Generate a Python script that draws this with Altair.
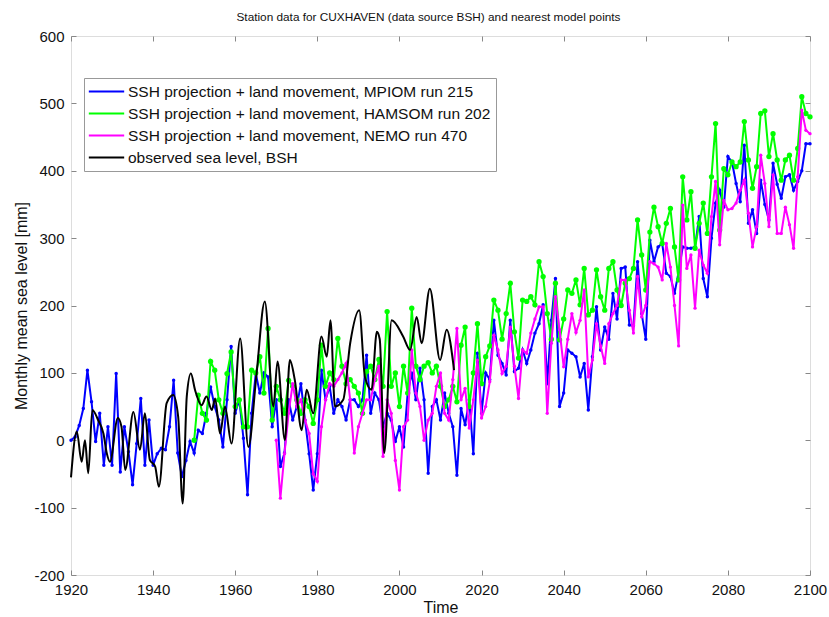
import altair as alt
import pandas as pd

# ---------------- data ----------------
mpiom_years = list(range(1920, 2101))
mpiom = [
    0, 5, 22, 47, 104, 57, -2, 40, -37, 20,
    -37, 99, -47, 20, -17, -66, -5, 62, -37, 30,
    -37, -20, -12, -14, 20, 89, -19, -54, -30, -2,
    -19, 15, 10, 40, 79, 50, 30, -10, 60, 139,
    40, 60, 3, -81, 40, 99, 70, 100, 94, 20,
    60, -39, -19, 60, 30, 50, 84, 30, -20, -74,
    -20, 104, 60, 80, 40, 60, 50, 30, 60, 60,
    50, 60, 126, 40, 70, 60, 20, 40, 30, -2,
    20, -10, 70, 100, 60, 107, 60, -49, 50, 60,
    30, 70, 40, 20, -52, 47, 23, 60, -20, 129,
    40, 100, 90, 178, 126, 114, 97, 178, 102, 107,
    134, 114, 134, 159, 173, 201, 84, 178, 240, 50,
    70, 134, 129, 124, 94, 114, 45, 124, 198, 134,
    168, 150, 218, 180, 255, 257, 171, 170, 265, 188,
    150, 297, 265, 287, 292, 248, 243, 218, 250, 287,
    285, 285, 287, 332, 240, 213, 300, 352, 371, 346,
    421, 413, 381, 354, 438, 322, 342, 307, 386, 350,
    327, 411, 380, 359, 391, 394, 371, 384, 400, 440,
    440,
]

hamsom_years = list(range(1950, 2101))
hamsom = [
    0, 67, 40, 30, 117, 104, 60, 40, 99, 131,
    50, 60, 20, 20, 104, 100, 124, 70, 166, 30,
    80, 60, 40, 89, 80, 60, 40, 60, 50, 25,
    60, 141, 80, 100, 90, 151, 110, 84, 90, 80,
    70, 40, 102, 110, 90, 120, 80, 191, 80, 100,
    50, 110, 70, 196, 110, 90, 110, 115, 100, 110,
    80, 50, 60, 80, 57, 141, 168, 50, 100, 173,
    84, 124, 140, 208, 193, 150, 188, 233, 161, 122,
    208, 206, 213, 201, 265, 243, 188, 150, 233, 149,
    180, 223, 218, 238, 201, 255, 186, 193, 253, 213,
    193, 255, 265, 223, 200, 233, 240, 255, 327, 275,
    223, 309, 346, 317, 292, 322, 344, 287, 238, 391,
    327, 369, 285, 322, 352, 307, 391, 470, 312, 403,
    394, 413, 406, 413, 473, 416, 374, 406, 485, 489,
    421, 455, 416, 386, 416, 423, 386, 433, 510, 485,
    480,
]

nemo_years = list(range(1970, 2101))
nemo = [
    0, -86, -20, 40, 84, 50, 60, 30, 10, -50,
    -61, 20, 60, 84, 80, 90, 100, 114, 60, -19,
    20, 40, 60, 60, 90, 110, -24, 60, 40, -30,
    -74, 20, 30, 134, 70, 50, 0, 30, 40, 80,
    100, 40, 30, 90, 166, 60, 77, 18, 60, 119,
    33, 50, 87, 156, 134, 99, 110, 168, 110, 62,
    134, 129, 159, 180, 198, 198, 40, 144, 213, 164,
    109, 150, 188, 160, 178, 223, 94, 119, 173, 140,
    114, 173, 188, 200, 238, 238, 193, 159, 243, 183,
    200, 265, 262, 257, 238, 292, 257, 200, 140, 349,
    255, 275, 196, 282, 260, 248, 332, 384, 290, 356,
    342, 344, 352, 371, 386, 337, 287, 317, 423, 381,
    317, 394, 307, 307, 346, 320, 285, 391, 490, 460,
    455,
]

obs_years = [
    1920.0, 1921.4, 1922.6, 1923.4, 1924.2, 1925.2, 1926.6, 1927.9, 1928.7, 1929.5,
    1931.4, 1932.3, 1933.2, 1935.2, 1936.8, 1938.0, 1939.2, 1940.5, 1941.4, 1943.3,
    1944.9, 1946.1, 1947.2, 1948.2, 1949.2, 1950.2, 1951.8, 1953.0, 1954.3, 1955.1,
    1956.3, 1957.5, 1959.1, 1961.2, 1963.2, 1965.2, 1967.2, 1969.3, 1970.3, 1972.1,
    1973.3, 1974.5, 1976.2, 1977.4, 1979.0, 1981.0, 1982.3, 1983.2, 1984.3, 1986.3,
    1988.0, 1990.2, 1991.6, 1993.2, 1994.5, 1995.2, 1996.3, 1998.1, 2000.9, 2002.6,
    2004.2, 2005.4, 2007.4, 2009.9, 2011.5, 2013.3,
]
obs = [
    -55, 13, -32, 0, -49, 45, 30, 10, -19, -32,
    33, 20, -44, 42, -14, 40, -29, -39, -69, 55,
    67, 35, -94, 65, 99, 75, 52, 65, 45, 62,
    10, 50, -5, 151, -10, 99, 206, 50, 117, 0,
    119, 90, 15, 75, 40, 154, 124, 178, 50, 60,
    144, 193, 94, 75, 161, 150, -19, 178, 154, 134,
    183, 144, 225, 119, 164, 104,
]

series_names = [
    "SSH projection + land movement, MPIOM run 215",
    "SSH projection + land movement, HAMSOM run 202",
    "SSH projection + land movement, NEMO run 470",
    "observed sea level, BSH",
]
series_colors = ["#0000FF", "#00FF00", "#FF00FF", "#000000"]
x_ticks = list(range(1920, 2101, 20))
y_ticks = list(range(-200, 601, 100))

frames = []
for name, yrs, vals in [
    (series_names[0], mpiom_years, mpiom),
    (series_names[1], hamsom_years, hamsom),
    (series_names[2], nemo_years, nemo),
    (series_names[3], obs_years, obs),
]:
    frames.append(pd.DataFrame({"year": yrs, "value": vals, "series": name}))
df = pd.concat(frames, ignore_index=True)

# ---------------- chart ----------------
FONT = "Liberation Sans"
xscale = alt.Scale(domain=[1920, 2100], nice=False, zero=False)
yscale = alt.Scale(domain=[-200, 600], nice=False, zero=False)
cscale = alt.Scale(domain=series_names, range=series_colors)

LINE_SYM = "M-2.5,0H2.5"

legend = alt.Legend(
    title=None, orient="none", legendX=13, legendY=42,
    symbolType=LINE_SYM, symbolSize=200, symbolStrokeWidth=2,
    symbolOffset=9, labelOffset=13,
    labelFont=FONT, labelFontSize=15.5, labelColor="#111", labelLimit=600,
    rowPadding=5, padding=5,
    strokeColor="#999999", fillColor="white", cornerRadius=0,
)

x_none = alt.X("year:Q", scale=xscale, axis=None)
y_none = alt.Y("value:Q", scale=yscale, axis=None)

x_bottom = alt.X("year:Q", scale=xscale, axis=alt.Axis(
    orient="bottom", values=x_ticks, labelExpr="'' + datum.value", offset=-5, tickSize=5,
    domain=False, grid=False, tickColor="#888", labelPadding=7, labelFlush=False,
    labelFont=FONT, labelFontSize=15, labelColor="#111",
    title="Time", titleFont=FONT, titleFontSize=16, titleFontWeight="normal",
    titleColor="#111", titlePadding=2))
y_left = alt.Y("value:Q", scale=yscale, axis=alt.Axis(
    orient="left", values=y_ticks, labelExpr="'' + datum.value", offset=-5, tickSize=5,
    domain=False, grid=False, tickColor="#888", labelPadding=7, labelFlush=False,
    labelFont=FONT, labelFontSize=15, labelColor="#111", labelOverlap=False,
    title="Monthly mean sea level [mm]", titleFont=FONT, titleFontSize=16,
    titleFontWeight="normal", titleColor="#111", titlePadding=4))
x_top = alt.X("year:Q", scale=xscale, axis=alt.Axis(
    orient="top", values=x_ticks, offset=-5, tickSize=5, domain=False,
    grid=False, labels=False, title=None, tickColor="#888"))
y_right = alt.Y("value:Q", scale=yscale, axis=alt.Axis(
    orient="right", values=y_ticks, offset=-5, tickSize=5, domain=False,
    grid=False, labels=False, title=None, tickColor="#888"))

base = alt.Chart(df)

def sel(name):
    return base.transform_filter(alt.datum.series == name)

layers = []
point_sizes = [12, 28, 11]
for i, name in enumerate(series_names[:3]):
    xe, ye = (x_bottom, y_left) if i == 0 else (x_none, y_none)
    line = sel(name).mark_line(strokeWidth=2).encode(
        x=xe, y=ye,
        color=alt.Color("series:N", scale=cscale, legend=legend),
    )
    pts = sel(name).mark_circle(size=point_sizes[i], opacity=1).encode(
        x=x_none, y=y_none,
        color=alt.Color("series:N", scale=cscale, legend=legend),
    )
    layers += [line, pts]

obs_line = sel(series_names[3]).mark_line(strokeWidth=2, interpolate="monotone").encode(
    x=x_top, y=y_right,
    color=alt.Color("series:N", scale=cscale, legend=legend),
)
layers.append(obs_line)

chart = alt.layer(*layers).resolve_axis(x="independent", y="independent").properties(
    width=739, height=539,
    title=alt.TitleParams(
        "Station data for CUXHAVEN (data source BSH) and nearest model points",
        font=FONT, fontSize=11.8, fontWeight="normal", color="#111",
        anchor="middle", offset=5, dx=-12,
    ),
    autosize=alt.AutoSizeParams(type="none"),
    padding={"left": 71, "top": 36, "right": 19, "bottom": 42},
).configure_view(stroke="#aaaaaa", strokeWidth=1).configure(background="white")

chart.save("out.html", embed_options={"renderer": "svg", "actions": False})
